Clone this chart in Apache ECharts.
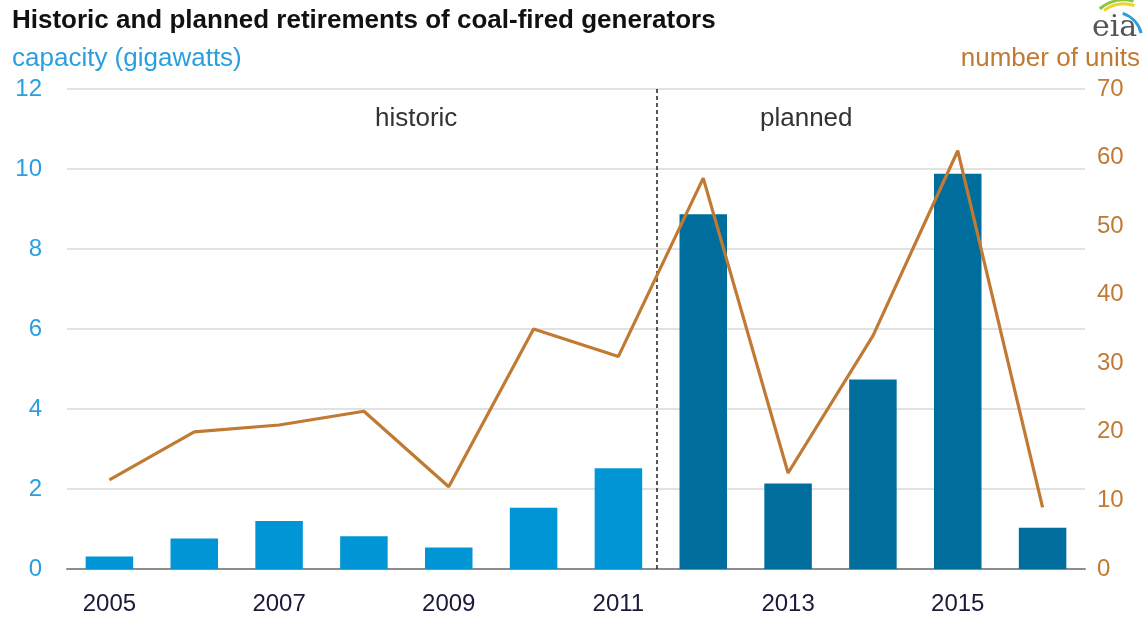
<!DOCTYPE html>
<html>
<head>
<meta charset="utf-8">
<script src="https://cdn.jsdelivr.net/npm/echarts@6/dist/echarts.min.js"></script>
<style>
  html, body { margin: 0; padding: 0; background: #fff; }
  #chart { width: 1144px; height: 621px; }
</style>
</head>
<body>
<div id="chart"></div>
<script>
// data
const years = ['2005', '2006', '2007', '2008', '2009', '2010', '2011', '2012', '2013', '2014', '2015', '2016']
const capacityGW = [0.31, 0.76, 1.2, 0.82, 0.54, 1.53, 2.52, 8.87, 2.14, 4.74, 9.88, 1.03]
const unitCount = [13, 20, 21, 23, 12, 35, 31, 57, 14, 34, 61, 9]
const lastHistoricYear = '2011'
const leftTicks = [0, 2, 4, 6, 8, 10, 12]
const rightTicks = [0, 10, 20, 30, 40, 50, 60, 70]
const dividerAt = 6.45 // position between 2011 and 2012 on the category scale

const blueLight = '#0096d6'
const blueDark = '#006e9d'
const brown = '#c07a33'
const sans = '"Liberation Sans", Arial, sans-serif'

const histIdx = years.indexOf(lastHistoricYear)
const chart = echarts.init(document.getElementById('chart'))

chart.setOption({
  animation: false,
  backgroundColor: '#fff',
  grid: { left: 67, right: 59, top: 89, bottom: 52 },
  xAxis: [
    {
      type: 'category',
      data: years,
      axisLine: { lineStyle: { color: '#8c8c8c', width: 2 } },
      axisTick: { alignWithLabel: true, length: 6, lineStyle: { color: '#8c8c8c', width: 1.5 } },
      axisLabel: { interval: 1, color: '#1a1a3a', fontFamily: sans, fontSize: 24, margin: 23 }
    },
    // hidden value axis used only to place the historic/planned divider
    { type: 'value', min: -0.5, max: years.length - 0.5, show: false }
  ],
  yAxis: [
    {
      type: 'value',
      min: leftTicks[0],
      max: leftTicks[leftTicks.length - 1],
      interval: leftTicks[1] - leftTicks[0],
      axisLine: { show: false },
      axisTick: { show: false },
      axisLabel: { color: '#2a9fe0', fontFamily: sans, fontSize: 24, margin: 25 },
      splitLine: { lineStyle: { color: '#d9d9d9', width: 1.5 } }
    },
    {
      type: 'value',
      min: rightTicks[0],
      max: rightTicks[rightTicks.length - 1],
      interval: rightTicks[1] - rightTicks[0],
      axisLine: { show: false },
      axisTick: { show: false },
      splitLine: { show: false },
      axisLabel: { color: brown, fontFamily: sans, fontSize: 24, margin: 12 }
    }
  ],
  series: [
    {
      type: 'bar',
      data: capacityGW,
      barWidth: '56%',
      itemStyle: {
        color: (p) => (p.dataIndex <= histIdx ? blueLight : blueDark)
      }
    },
    {
      type: 'line',
      yAxisIndex: 1,
      data: unitCount,
      symbol: 'none',
      lineStyle: { color: brown, width: 3.2 },
      z: 5
    },
    {
      type: 'line',
      xAxisIndex: 1,
      yAxisIndex: 0,
      data: [[dividerAt, 0]],
      symbol: 'none',
      lineStyle: { opacity: 0 },
      markLine: {
        silent: true,
        symbol: 'none',
        label: { show: false },
        lineStyle: { color: '#222', type: [4, 3], width: 1.5 },
        data: [{ xAxis: dividerAt }]
      }
    }
  ],
  graphic: [
    {
      type: 'text', left: 12, top: 8,
      style: { text: 'Historic and planned retirements of coal-fired generators', fill: '#111', font: 'bold 26px ' + sans }
    },
    {
      type: 'text', left: 12, top: 46,
      style: { text: 'capacity (gigawatts)', fill: '#2a9fe0', font: '26px ' + sans }
    },
    {
      type: 'text', right: 4, top: 46,
      style: { text: 'number of units', fill: brown, font: '26px ' + sans }
    },
    {
      type: 'text', left: 375, top: 106,
      style: { text: 'historic', fill: '#333', font: '26px ' + sans }
    },
    {
      type: 'text', left: 760, top: 106,
      style: { text: 'planned', fill: '#333', font: '26px ' + sans }
    },
    // eia logo
    {
      type: 'text', left: 1092, top: 13,
      style: { text: 'eia', fill: '#555', font: '30px "DejaVu Serif", serif' }
    },
    {
      type: 'arc', silent: true,
      shape: { cx: 1124, cy: 38, r: 38, startAngle: -Math.PI * 0.72, endAngle: -Math.PI * 0.42 },
      style: { stroke: '#8cc63f', lineWidth: 3, fill: null }
    },
    {
      type: 'arc', silent: true,
      shape: { cx: 1124, cy: 38, r: 34, startAngle: -Math.PI * 0.70, endAngle: -Math.PI * 0.40 },
      style: { stroke: '#f2d024', lineWidth: 3, fill: null }
    },
    {
      type: 'arc', silent: true,
      shape: { cx: 1114, cy: 40, r: 28, startAngle: -Math.PI * 0.40, endAngle: -Math.PI * 0.08 },
      style: { stroke: '#2aa0e0', lineWidth: 3, fill: null }
    }
  ]
})
</script>
</body>
</html>
